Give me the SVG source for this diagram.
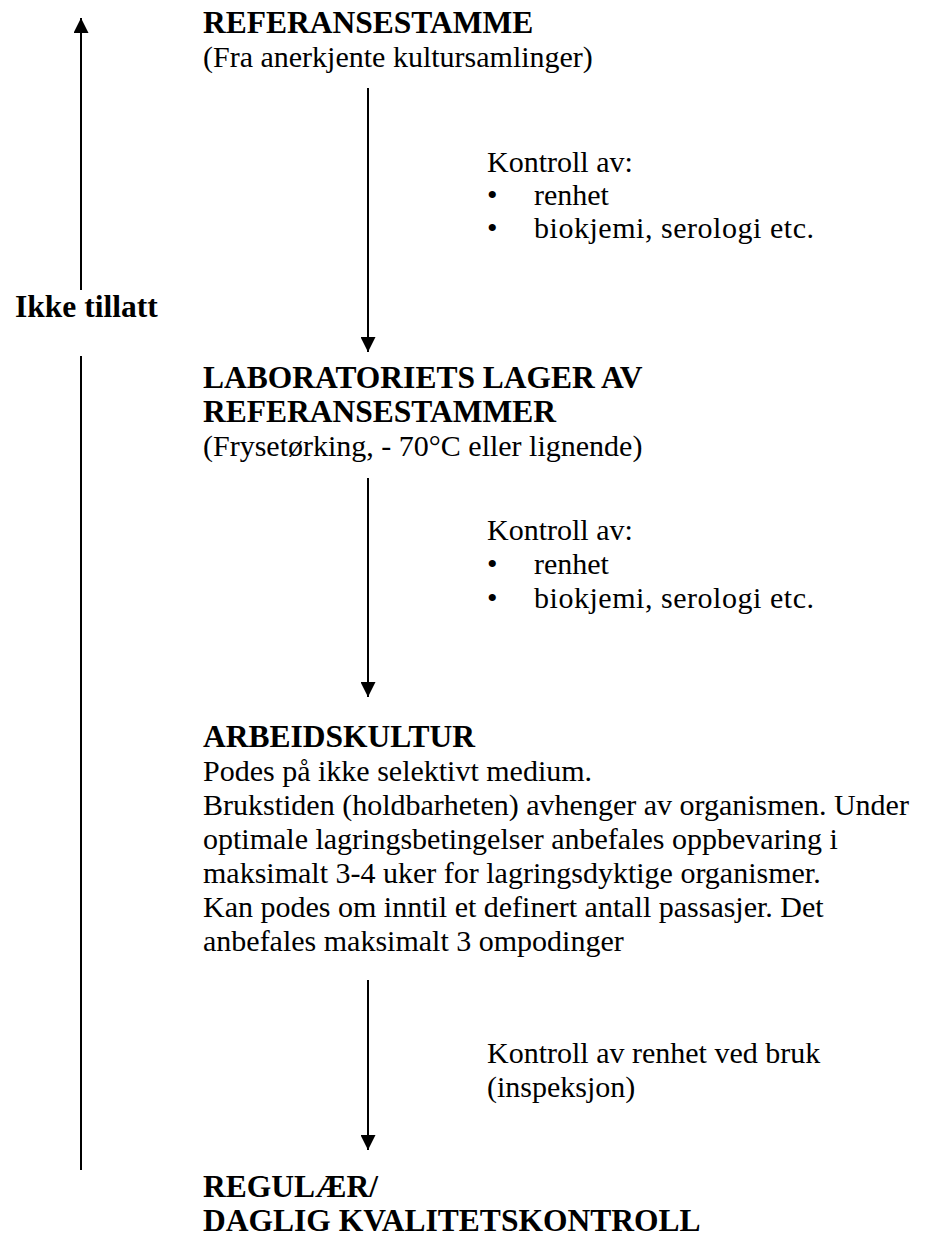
<svg xmlns="http://www.w3.org/2000/svg" width="936" height="1241" viewBox="0 0 936 1241">
<style>
text{font-family:"Liberation Serif","Times New Roman",serif;font-size:30px;fill:#000}
.b{font-weight:bold;font-size:31.5px}
.ln{stroke:#000;stroke-width:2;fill:none}
.ar{stroke:#000;stroke-width:2;fill:none;marker-end:url(#ah)}
</style>
<defs>
<marker id="ah" markerUnits="userSpaceOnUse" markerWidth="15" markerHeight="15" viewBox="0 0 15 15" refX="15" refY="7.5" orient="auto">
<path d="M0,0 L15,7.5 L0,15 Z" fill="#000"/>
</marker>
</defs>
<rect width="936" height="1241" fill="#fff"/>
<g id="connectors">
<line class="ar" x1="81" y1="290" x2="81" y2="18"/>
<line class="ln" x1="81" y1="356" x2="81" y2="1170"/>
<line class="ar" x1="368" y1="88" x2="368" y2="352"/>
<line class="ar" x1="368" y1="478" x2="368" y2="697"/>
<line class="ar" x1="368" y1="980" x2="368" y2="1150"/>
</g>
<g id="label-ikke">
<text class="b" x="15" y="317">Ikke tillatt</text>
</g>
<g id="node-referansestamme">
<text class="b" x="203" y="33">REFERANSESTAMME</text>
<text x="203" y="67">(Fra anerkjente kultursamlinger)</text>
</g>
<g id="label-kontroll1">
<text x="487" y="172">Kontroll av:</text>
<text x="487" y="205">•</text><text x="534" y="205">renhet</text>
<text x="487" y="238">•</text><text x="534" y="238" textLength="280" lengthAdjust="spacing">biokjemi, serologi etc.</text>
</g>
<g id="node-lager">
<text class="b" x="203" y="388">LABORATORIETS LAGER AV</text>
<text class="b" x="203" y="422">REFERANSESTAMMER</text>
<text x="203" y="456">(Frysetørking, - 70°C eller lignende)</text>
</g>
<g id="label-kontroll2">
<text x="487" y="540">Kontroll av:</text>
<text x="487" y="574">•</text><text x="534" y="574">renhet</text>
<text x="487" y="608">•</text><text x="534" y="608" textLength="280" lengthAdjust="spacing">biokjemi, serologi etc.</text>
</g>
<g id="node-arbeidskultur">
<text class="b" x="203" y="747">ARBEIDSKULTUR</text>
<text x="203" y="781">Podes på ikke selektivt medium.</text>
<text x="203" y="815">Brukstiden (holdbarheten) avhenger av organismen. Under</text>
<text x="203" y="849">optimale lagringsbetingelser anbefales oppbevaring i</text>
<text x="203" y="883">maksimalt 3-4 uker for lagringsdyktige organismer.</text>
<text x="203" y="917">Kan podes om inntil et definert antall passasjer. Det</text>
<text x="203" y="951">anbefales maksimalt 3 ompodinger</text>
</g>
<g id="label-kontroll3">
<text x="487" y="1063">Kontroll av renhet ved bruk</text>
<text x="487" y="1097">(inspeksjon)</text>
</g>
<g id="node-regulaer">
<text class="b" x="203" y="1197">REGULÆR/</text>
<text class="b" x="203" y="1231">DAGLIG KVALITETSKONTROLL</text>
</g>
</svg>
